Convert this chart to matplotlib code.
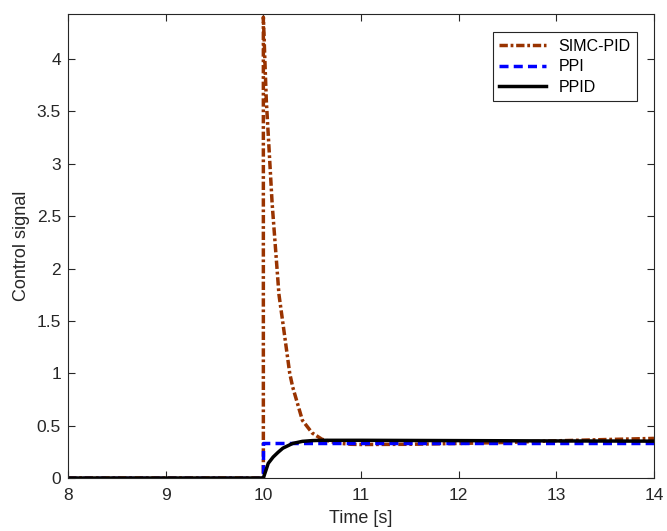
import matplotlib
matplotlib.use("Agg")
import matplotlib.pyplot as plt
import numpy as np
from matplotlib.ticker import FormatStrFormatter

plt.rcParams['font.family'] = ['Liberation Sans', 'DejaVu Sans']

# values
t_simc = [8, 10, 10, 10.03, 10.09, 10.16, 10.2, 10.27, 10.3, 10.4, 10.5, 10.6,
          10.7, 10.8, 10.9, 11.0, 11.5, 12.0, 12.5, 13.0, 13.5, 14.0]
u_simc = [0, 0, 4.40, 3.61, 2.62, 1.75, 1.48, 1.00, 0.87, 0.55, 0.43, 0.37,
          0.345, 0.33, 0.322, 0.32, 0.322, 0.33, 0.34, 0.355, 0.367, 0.378]

t_ppi = [8, 10, 10, 14]
u_ppi = [0, 0, 0.335, 0.335]

t_ppid = [8, 10, 10.05, 10.1, 10.15, 10.2, 10.3, 10.4, 10.5, 10.6, 11, 12, 13, 14]
u_ppid = [0, 0, 0.14, 0.20, 0.245, 0.285, 0.33, 0.35, 0.357, 0.36, 0.36, 0.357, 0.354, 0.352]

fig = plt.figure(figsize=(6.67, 5.31), dpi=100)
ax = fig.add_axes([0.102, 0.0998, 0.8785, 0.8738])

ax.plot(t_simc, u_simc, color='#993300', lw=2.5, linestyle=(0, (2.4, 0.8, 0.8, 0.8)),
        label='SIMC-PID')
ax.plot(t_ppi, u_ppi, color='#0000ff', lw=2.5, linestyle=(0, (2.6, 1.5)), label='PPI')
ax.plot(t_ppid, u_ppid, color='black', lw=2.5, label='PPID')

ax.set_xlim(8, 14)
ax.set_ylim(0, 4.43)
ax.set_xticks(np.arange(8, 15, 1))
ax.set_yticks(np.arange(0, 4.01, 0.5))
ax.yaxis.set_major_formatter(FormatStrFormatter('%g'))

grey = '#262626'
for s in ax.spines.values():
    s.set_color(grey)
    s.set_linewidth(0.8)
ax.tick_params(direction='in', top=True, right=True, length=5, width=0.8,
               colors=grey, labelsize=12.5)
ax.tick_params(axis='x', pad=7)
ax.tick_params(axis='y', pad=5)

ax.set_xlabel('Time [s]', fontsize=13, color=grey, labelpad=5)
ax.set_ylabel('Control signal', fontsize=13, color=grey, labelpad=5)

leg = ax.legend(loc='upper right', bbox_to_anchor=(0.971, 0.961), fontsize=11.5,
                fancybox=False, handlelength=2.9, labelspacing=0.35,
                borderaxespad=0, framealpha=1)
leg.get_frame().set_edgecolor(grey)
leg.get_frame().set_linewidth(0.8)

fig.savefig('out.png', dpi=100)
